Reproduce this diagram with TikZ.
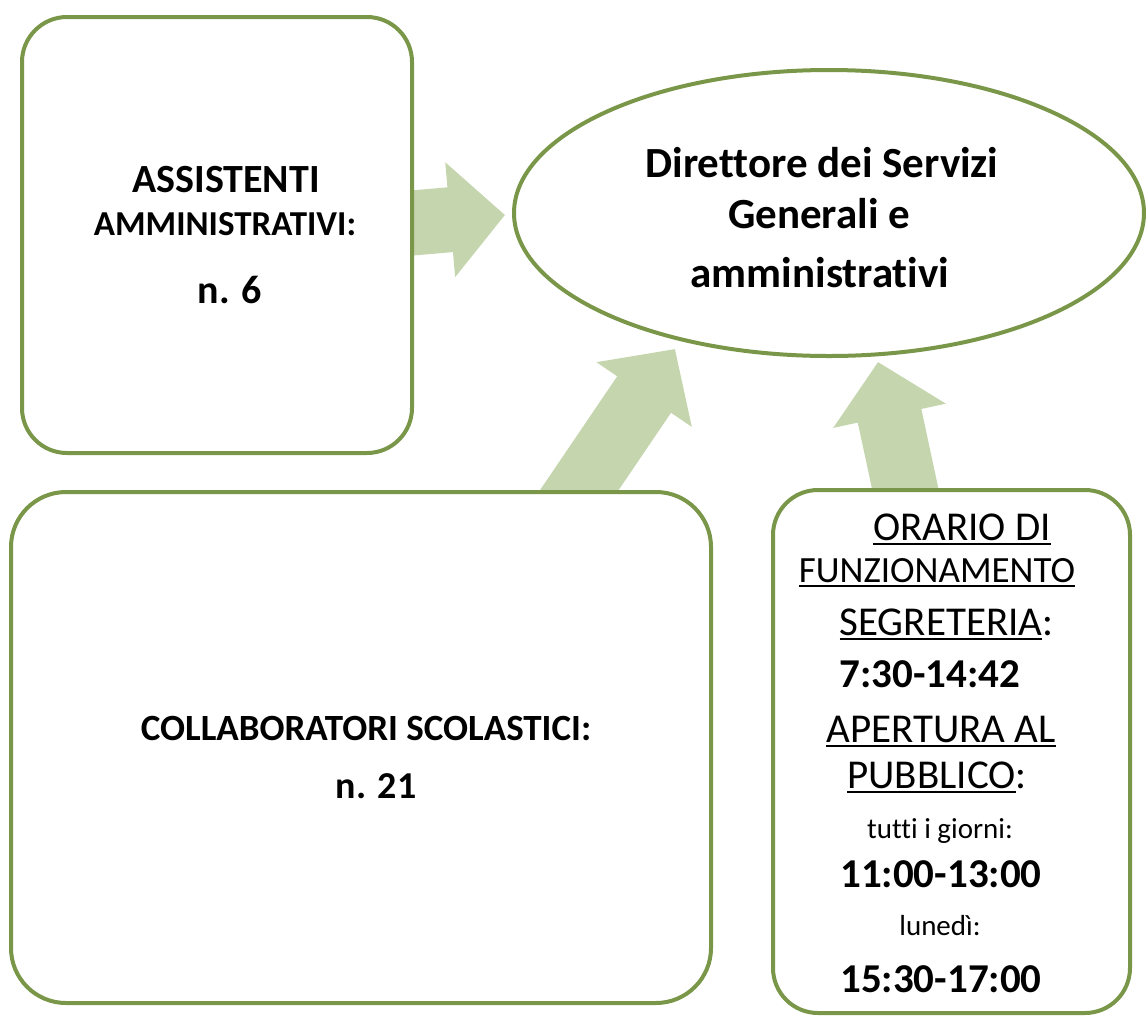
\documentclass[tikz,border=0pt]{standalone}
\usepackage{fontspec}
\setmainfont{Carlito}[Ligatures=CommonOff]
\usetikzlibrary{shapes.geometric,arrows.meta,calc,backgrounds}
\definecolor{boxline}{RGB}{122,151,73}
\definecolor{flowfill}{RGB}{197,213,173}
\newsavebox\ulbox
\newcommand{\uln}[1]{\sbox\ulbox{#1}\rlap{\rule[-5pt]{\wd\ulbox}{2pt}}\usebox\ulbox}
\newcommand{\fs}[1]{\fontsize{#1}{#1}\selectfont}

\begin{document}
\begin{tikzpicture}[x=1pt,y=-1pt,
    main node/.style={draw=boxline,line width=4pt,fill=white,rounded corners=45pt,inner sep=0pt,outer sep=0pt},
    oval node/.style={draw=boxline,line width=4pt,fill=white,ellipse,inner sep=0pt,outer sep=0pt},
    flow/.style={draw=flowfill,line width=65pt,-{Triangle[width=112pt,length=55pt]}},
    lbl/.style={anchor=base,inner sep=0pt}]
    \useasboundingbox (0,0) rectangle (1146,1021);
    \node[main node,minimum width=390pt,minimum height=436pt] (ass) at (217,235) {};
    \node[main node,minimum width=700pt,minimum height=511pt,rounded corners=55pt] (coll) at (361,747.5) {};
    \node[main node,minimum width=357pt,minimum height=523pt] (ora) at (951.5,751.5) {};
    \node[oval node,minimum width=630pt,minimum height=286pt] (dir) at (829,213) {};

    % arrow ends
    \coordinate (a1) at ($(ass.east)+(0,-12)$);
    \coordinate (b1) at ($(dir.west)+(-9,2)$);
    \coordinate (a2) at ($(coll.north)+(217,0)$);
    \coordinate (b2) at ($(dir.center)+(-154,136)$);
    \coordinate (a3) at ($(ora.north)+(-46,0)$);
    \coordinate (b3) at ($(dir.south)+(49,6)$);
    \begin{scope}[on background layer]
        \draw[flow] ($(a1)!-20pt!(b1)$) -- (b1);
        \draw[flow] ($(a2)!-40pt!(b2)$) -- (b2);
        \draw[flow] ($(a3)!-40pt!(b3)$) -- (b3);
    \end{scope}

    \node[lbl,font=\fs{40}\bfseries] (ass1) at (226,192) {ASSISTENTI};
    \node[lbl,font=\fs{35}\bfseries] (ass2) at (225,235) {AMMINISTRATIVI:};
    \node[lbl,font=\fs{40}\bfseries] (ass3) at (230,303) {n. 6};

    \node[lbl,font=\fs{43}\bfseries] (dir1) at (822,177) {Direttore dei Servizi};
    \node[lbl,font=\fs{43}\bfseries] (dir2) at (819,228) {Generali e};
    \node[lbl,font=\fs{43}\bfseries] (dir3) at (820,287) {amministrativi};

    \node[lbl,font=\fs{37}\bfseries] (coll1) at (366,740) {COLLABORATORI SCOLASTICI:};
    \node[lbl,font=\fs{38}\bfseries] (coll2) at (376,798) {n. 21};

    \foreach \x/\y/\s/\t [count=\i] in {962/540/41/{\uln{ORARIO DI}},
        937/582/37/{\uln{FUNZIONAMENTO}},
        946.5/635/41/{\uln{SEGRETERIA}:},
        930/687/41/{\bfseries 7:30-14:42},
        941/742/41/{\uln{APERTURA AL}},
        937/788/41/{\uln{PUBBLICO}:},
        940/838/29/{tutti i giorni:},
        941/887/41/{\bfseries 11:00-13:00},
        940/935/29/{lunedì:},
        941/992/41/{\bfseries 15:30-17:00}}
        \node[lbl,font=\fs{\s}] (ora\i) at (\x,\y) {\t};
\end{tikzpicture}
\end{document}
